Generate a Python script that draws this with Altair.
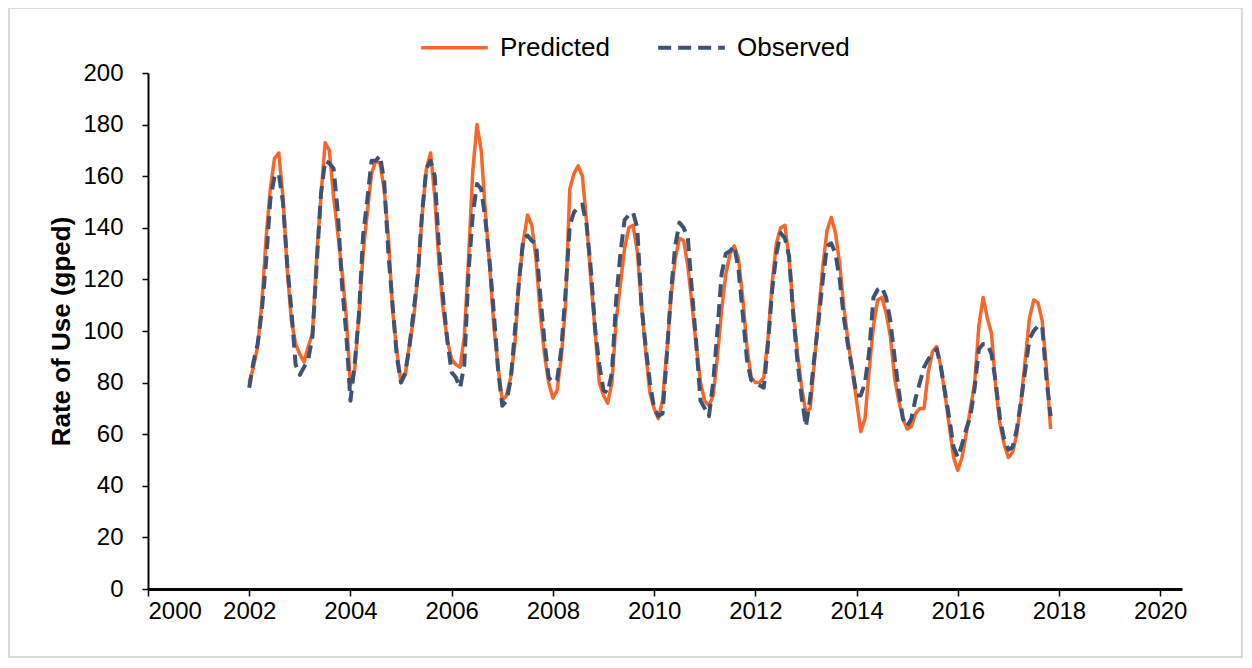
import altair as alt
import pandas as pd

start_year = 2002

# Monthly values, Jan 2002 - Nov 2017 (one row per year)
predicted = [
    80, 86, 94, 111, 136, 155, 167, 169, 152, 124, 104, 95,
    91, 88, 94, 99, 129, 152, 173, 170, 152, 138, 123, 106,
    79, 85, 106, 130, 146, 161, 166, 165, 155, 136, 108, 92,
    80, 83, 95, 105, 122, 145, 163, 169, 152, 126, 108, 96,
    89, 87, 86, 98, 128, 162, 180, 170, 146, 125, 102, 86,
    73, 75, 82, 95, 120, 135, 145, 141, 128, 107, 91, 80,
    74, 77, 90, 110, 155, 161, 164, 160, 142, 120, 100, 80,
    75, 72, 80, 104, 118, 132, 140, 141, 131, 110, 92, 76,
    70, 66, 73, 92, 113, 128, 136, 135, 125, 110, 94, 80,
    73, 71, 75, 90, 108, 122, 130, 133, 128, 113, 94, 82,
    80, 80, 82, 97, 119, 134, 140, 141, 128, 108, 91, 78,
    68, 70, 88, 107, 125, 139, 144, 138, 126, 109, 96, 85,
    73, 61, 66, 85, 102, 112, 113, 107, 98, 82, 73, 66,
    62, 63, 68, 70, 70, 84, 92, 94, 86, 75, 63, 51,
    46, 51, 60, 70, 80, 102, 113, 105, 99, 78, 64, 56,
    51, 53, 60, 73, 89, 105, 112, 111, 104, 86, 62,
]

observed = [
    78, 88, 95, 108, 127, 151, 160, 161, 150, 126, 108, 87,
    83, 86, 89, 98, 126, 153, 166, 165, 163, 146, 118, 99,
    73, 87, 106, 137, 151, 166, 166, 168, 158, 130, 110, 90,
    80, 84, 94, 108, 122, 146, 163, 166, 160, 132, 112, 96,
    84, 82, 78, 87, 123, 145, 157, 155, 143, 127, 107, 85,
    71, 73, 81, 100, 120, 136, 137, 135, 134, 114, 96, 82,
    80, 81, 93, 115, 141, 146, 148, 149, 141, 124, 101, 87,
    77, 76, 84, 112, 130, 143, 145, 146, 140, 110, 94, 80,
    70, 67, 68, 90, 115, 133, 142, 140, 136, 115, 95, 73,
    70, 67, 80, 100, 122, 130, 131, 133, 124, 107, 89, 81,
    80, 79, 78, 95, 116, 130, 138, 136, 129, 106, 88, 74,
    63, 74, 90, 104, 120, 133, 134, 130, 120, 105, 94, 85,
    75, 75, 80, 92, 113, 116, 117, 113, 104, 90, 77, 66,
    63, 66, 74, 80, 86, 89, 91, 93, 86, 76, 66, 55,
    51, 56, 62, 67, 78, 93, 95, 95, 91, 80, 66, 58,
    54, 55, 62, 73, 85, 97, 100, 102, 102, 82, 67,
]

series_names = ["Predicted", "Observed"]
series_colors = ["#F7672B", "#3E5273"]
x_ticks = list(range(2000, 2021, 2))
y_ticks = list(range(0, 201, 20))

n = len(predicted)
dates = [start_year + i / 12 for i in range(n)]
df = pd.DataFrame({
    "year": dates + dates,
    "value": predicted + observed,
    "series": ["Predicted"] * n + ["Observed"] * n,
})

FONT = "Liberation Sans"

legend_cfg = dict(title=None, orient="none", direction="horizontal",
                  legendX=271, legendY=-61,
                  symbolType="stroke", symbolSize=4450,
                  symbolStrokeWidth=3.5,
                  labelFontSize=26, labelColor="black", labelFont=FONT,
                  labelOffset=10, columnPadding=40)

lines = alt.Chart(df).mark_line(strokeJoin="round").encode(
    x=alt.X("year:Q",
            scale=alt.Scale(domain=[2000, 2020.43], nice=False, zero=False),
            axis=alt.Axis(values=x_ticks, format="d", title=None,
                          domainWidth=3, domainColor="black",
                          tickColor="black", tickWidth=1.5, tickSize=7,
                          labelFontSize=24, labelColor="black", labelPadding=3,
                          labelFont=FONT, grid=False)),
    y=alt.Y("value:Q",
            scale=alt.Scale(domain=[0, 200], nice=False),
            axis=alt.Axis(values=y_ticks, title="Rate of Use (gped)",
                          titleFontSize=26, titleFontWeight="bold", titleColor="black",
                          titleFont=FONT, titlePadding=8,
                          domainWidth=2, domainColor="black",
                          tickColor="black", tickWidth=1.5, tickSize=6,
                          labelFontSize=24, labelColor="black", labelPadding=19,
                          labelFont=FONT, grid=False)),
    color=alt.Color("series:N",
                    scale=alt.Scale(domain=series_names, range=series_colors),
                    legend=alt.Legend(**legend_cfg)),
    strokeDash=alt.StrokeDash("series:N",
                              scale=alt.Scale(domain=series_names, range=[[1, 0], [13, 7]]),
                              legend=alt.Legend(**legend_cfg)),
    strokeWidth=alt.StrokeWidth("series:N",
                                scale=alt.Scale(domain=series_names, range=[3.5, 4]),
                                legend=None),
    order=alt.Order("series:N", sort="ascending"),
)

border = alt.Chart(alt.Data(values=[{"a": 1}])).mark_rect(
    fillOpacity=0, stroke="#D9D9D9", strokeWidth=2
).encode(
    x=alt.value(-139), x2=alt.value(1094),
    y=alt.value(-65), y2=alt.value(584),
)

chart = alt.layer(border, lines).properties(
    width=1034, height=516,
    autosize=alt.AutoSizeParams(type="none"),
    padding={"left": 140, "top": 65, "right": 62, "bottom": 71},
    background="white",
    view=alt.ViewBackground(strokeOpacity=0, strokeWidth=0),
).configure_view(stroke="transparent", strokeWidth=0, strokeOpacity=0).configure(font=FONT)

chart.save("out.html", embed_options={"renderer": "svg", "actions": False})
